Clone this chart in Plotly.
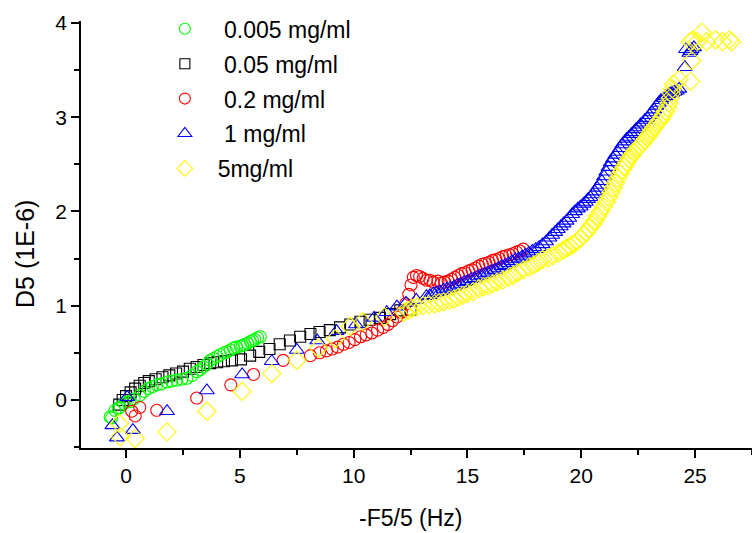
import plotly.graph_objects as go

# ---- data ----
g_x = [-0.7, -0.63, -0.49, -0.35, -0.27, -0.1, 0.05, 0.17, 0.35, 0.61, 0.8, 0.98, 1.15, 1.35, 1.55, 1.79, 2.0, 2.23, 2.45, 2.67, 2.9, 3.11, 3.25, 3.4, 3.55, 3.7, 3.85, 4.0, 4.14, 4.3, 4.45, 4.58, 4.72, 4.85, 5.02, 5.12, 5.22, 5.34, 5.46, 5.56, 5.66, 5.78, 5.9]
g_y = [-0.18, -0.19, -0.11, -0.09, -0.08, -0.04, -0.02, -0.02, 0.01, 0.05, 0.09, 0.12, 0.14, 0.16, 0.17, 0.19, 0.2, 0.21, 0.22, 0.23, 0.26, 0.3, 0.32, 0.35, 0.38, 0.42, 0.44, 0.46, 0.48, 0.5, 0.51, 0.53, 0.55, 0.56, 0.57, 0.58, 0.59, 0.6, 0.62, 0.63, 0.64, 0.66, 0.67]

k_x = [-0.3, -0.15, 0.0, 0.2, 0.4, 0.6, 0.8, 1.0, 1.3, 1.6, 1.9, 2.2, 2.5, 2.8, 3.1, 3.4, 3.7, 4.0, 4.3, 4.65, 5.05, 5.45, 5.85, 6.3, 6.75, 7.2, 7.65, 8.1, 8.5, 8.95, 9.4, 9.85, 10.3, 10.7, 11.15, 11.6, 12.05, 12.5]
k_y = [-0.05, 0.0, 0.04, 0.08, 0.12, 0.15, 0.18, 0.2, 0.22, 0.24, 0.26, 0.28, 0.3, 0.33, 0.35, 0.37, 0.39, 0.4, 0.41, 0.42, 0.43, 0.47, 0.51, 0.54, 0.59, 0.63, 0.67, 0.7, 0.72, 0.74, 0.77, 0.8, 0.83, 0.85, 0.87, 0.91, 0.95, 0.96]

r_x = [0.25, 0.4, 0.6, 1.35, 3.1, 4.6, 5.6, 6.9, 8.1, 8.5, 8.8, 9.05, 9.3, 9.55, 9.8, 10.05, 10.3, 10.55, 10.8, 11.05, 11.3, 11.5, 11.7, 11.9, 12.1, 12.28, 12.42, 12.52, 12.62, 12.76, 12.9, 13.05, 13.2, 13.35, 13.5, 13.7, 13.85, 14.0, 14.15, 14.3, 14.45, 14.6, 14.75, 14.9, 15.05, 15.2, 15.35, 15.5, 15.65, 15.8, 15.95, 16.1, 16.25, 16.4, 16.55, 16.7, 16.85, 17.0, 17.15, 17.3, 17.45]
r_y = [-0.12, -0.17, -0.08, -0.11, 0.02, 0.16, 0.27, 0.42, 0.47, 0.5, 0.52, 0.54, 0.56, 0.59, 0.61, 0.64, 0.67, 0.69, 0.71, 0.74, 0.77, 0.8, 0.84, 0.88, 0.93, 1.02, 1.12, 1.22, 1.3, 1.32, 1.31, 1.29, 1.27, 1.27, 1.25, 1.26, 1.24, 1.25, 1.26, 1.28, 1.3, 1.32, 1.34, 1.35, 1.37, 1.38, 1.4, 1.42, 1.44, 1.45, 1.46, 1.48, 1.49, 1.5, 1.52, 1.53, 1.54, 1.55, 1.57, 1.58, 1.6]

b_x = [-0.6, -0.4, 0.05, 0.3, 1.8, 3.55, 5.1, 6.4, 7.5, 8.4, 9.25, 10.1, 10.9, 11.45, 11.9, 12.3, 12.75, 13.2, 13.35, 13.5, 13.65, 13.8, 13.95, 14.1, 14.25, 14.4, 14.55, 14.7, 14.85, 15.0, 15.15, 15.3, 15.45, 15.6, 15.75, 15.9, 16.05, 16.2, 16.35, 16.5, 16.65, 16.8, 16.95, 17.1, 17.25, 17.4, 17.55, 17.7, 17.85, 18.0, 18.15, 18.3, 18.45, 18.6, 18.72, 18.85, 18.97, 19.1, 19.22, 19.35, 19.47, 19.6, 19.72, 19.85, 19.97, 20.1, 20.2, 20.3, 20.4, 20.5, 20.6, 20.7, 20.8, 20.9, 21.0, 21.1, 21.2, 21.3, 21.4, 21.5, 21.6, 21.7, 21.8, 21.9, 22.0, 22.1, 22.2, 22.3, 22.4, 22.5, 22.6, 22.7, 22.8, 22.9, 23.0, 23.1, 23.2, 23.3, 23.4, 23.5, 23.6, 23.7, 23.8, 23.9, 24.0, 24.1, 24.2, 24.3, 24.55, 24.6, 24.75, 24.8, 24.85, 24.95]
b_y = [-0.27, -0.4, 0.03, -0.32, -0.12, 0.1, 0.27, 0.41, 0.53, 0.63, 0.73, 0.8, 0.87, 0.93, 0.99, 1.03, 1.06, 1.1, 1.11, 1.13, 1.14, 1.15, 1.17, 1.18, 1.19, 1.2, 1.22, 1.23, 1.25, 1.26, 1.28, 1.29, 1.31, 1.32, 1.34, 1.35, 1.37, 1.38, 1.4, 1.42, 1.43, 1.45, 1.47, 1.49, 1.5, 1.52, 1.54, 1.56, 1.58, 1.6, 1.62, 1.65, 1.68, 1.72, 1.75, 1.78, 1.81, 1.84, 1.87, 1.9, 1.93, 1.97, 2.0, 2.03, 2.05, 2.08, 2.1, 2.13, 2.15, 2.18, 2.21, 2.25, 2.28, 2.32, 2.37, 2.42, 2.47, 2.52, 2.56, 2.6, 2.63, 2.67, 2.71, 2.74, 2.77, 2.79, 2.82, 2.84, 2.87, 2.89, 2.92, 2.94, 2.97, 2.99, 3.02, 3.05, 3.08, 3.12, 3.15, 3.18, 3.2, 3.22, 3.24, 3.25, 3.26, 3.27, 3.28, 3.3, 3.53, 3.72, 3.68, 3.7, 3.72, 3.74]

y_x = [-0.3, -0.25, 0.4, 1.8, 3.55, 5.1, 6.4, 7.5, 8.45, 9.2, 9.85, 10.4, 11.35, 12.2, 12.4, 12.55, 12.8, 13.05, 13.3, 13.55, 13.75, 13.95, 14.2, 14.4, 14.6, 14.8, 15.0, 15.25, 15.5, 15.7, 15.9, 16.1, 16.3, 16.55, 16.8, 17.0, 17.2, 17.45, 17.7, 17.9, 18.1, 18.3, 18.55, 18.75, 19.0, 19.2, 19.35, 19.5, 19.65, 19.8, 19.95, 20.1, 20.22, 20.35, 20.48, 20.6, 20.72, 20.85, 20.97, 21.1, 21.2, 21.3, 21.4, 21.5, 21.6, 21.7, 21.8, 21.9, 22.0, 22.1, 22.2, 22.3, 22.4, 22.5, 22.6, 22.7, 22.8, 22.9, 23.0, 23.1, 23.2, 23.3, 23.4, 23.5, 23.6, 23.7, 23.78, 23.85, 23.9, 23.95, 24.0, 24.05, 24.3, 24.8, 24.85, 24.8, 24.9, 25.1, 25.3, 25.5, 25.9, 26.2, 26.5, 26.6]
y_y = [-0.25, -0.39, -0.41, -0.34, -0.12, 0.09, 0.28, 0.42, 0.55, 0.65, 0.78, 0.83, 0.88, 0.93, 0.95, 0.97, 0.99, 1.0, 1.01, 1.02, 1.03, 1.04, 1.06, 1.07, 1.09, 1.11, 1.13, 1.15, 1.18, 1.2, 1.21, 1.23, 1.25, 1.27, 1.3, 1.32, 1.35, 1.38, 1.41, 1.43, 1.46, 1.49, 1.51, 1.53, 1.56, 1.59, 1.61, 1.63, 1.65, 1.68, 1.71, 1.75, 1.78, 1.82, 1.86, 1.9, 1.95, 2.0, 2.05, 2.1, 2.15, 2.2, 2.25, 2.3, 2.35, 2.4, 2.44, 2.48, 2.52, 2.56, 2.59, 2.62, 2.65, 2.68, 2.7, 2.73, 2.76, 2.79, 2.82, 2.86, 2.89, 2.92, 2.95, 2.98, 3.02, 3.06, 3.1, 3.15, 3.2, 3.25, 3.3, 3.35, 3.4, 3.38, 3.6, 3.8, 3.82, 3.8, 3.9, 3.8, 3.82, 3.8, 3.82, 3.8]

x_ticks = [0, 5, 10, 15, 20, 25]
y_ticks = [0, 1, 2, 3, 4]

FONT = "Liberation Sans, Arial, sans-serif"
NB = "\u00a0"

series = [
    # name, x, y, symbol, color, size, legend size, legend rank
    (NB * 3 + "0.05 mg/ml", k_x, k_y, "square-open", "#000000", 11, 10, 2),
    (NB * 3 + "0.005 mg/ml", g_x, g_y, "circle-open", "#00FF00", 12, 11, 1),
    (NB * 3 + "0.2 mg/ml", r_x, r_y, "circle-open", "#FF0000", 12, 11, 3),
    (NB * 3 + "1 mg/ml", b_x, b_y, "triangle-up-open", "#0000FF", 13, 12, 4),
    (NB * 2 + "5mg/ml", y_x, y_y, "diamond-open", "#FFFF00", 14, 12, 5),
]

fig = go.Figure()
for name, xs, ys, sym, col, sz, lsz, rank in series:
    fig.add_trace(go.Scatter(
        x=xs, y=ys, mode="markers", name=name, showlegend=False,
        legendgroup=name,
        marker=dict(symbol=sym, size=sz, color=col, line=dict(color=col, width=1.1)),
    ))
    # legend entry (same symbol, legend-sized marker)
    fig.add_trace(go.Scatter(
        x=[None], y=[None], mode="markers", name=name,
        legendrank=rank, legendgroup=name,
        marker=dict(symbol=sym, size=lsz, color=col, line=dict(color=col, width=1.1)),
    ))

axis_common = dict(
    showline=True, linecolor="black", linewidth=1.5, mirror=False,
    ticks="outside", ticklen=8, tickwidth=1.5, tickcolor="black",
    showgrid=False, zeroline=False,
    tickfont=dict(family=FONT, size=21, color="black"),
)

fig.update_layout(
    width=752, height=533,
    margin=dict(l=81, r=0, t=21, b=85),
    plot_bgcolor="white", paper_bgcolor="white",
    font=dict(family=FONT, color="black"),
    xaxis=dict(range=[-1.98, 27.5], tickvals=x_ticks,
               minor=dict(dtick=2.5, tick0=0, ticks="outside", ticklen=5, tickwidth=1.5, tickcolor="black"),
               **axis_common),
    yaxis=dict(range=[-0.51, 4.02], tickvals=y_ticks,
               minor=dict(dtick=0.5, tick0=0, ticks="outside", ticklen=5, tickwidth=1.5, tickcolor="black"),
               **axis_common),
    legend=dict(x=0.125, y=1.032, xanchor="left", yanchor="top",
                bgcolor="rgba(0,0,0,0)", tracegroupgap=2, itemsizing="trace",
                font=dict(family=FONT, size=23, color="black")),
    showlegend=True,
    annotations=[
        dict(text="-F5/5 (Hz)", xref="paper", yref="paper",
             x=(411 - 81) / 671, y=(448 - 518) / 427, xanchor="center", yanchor="middle",
             showarrow=False, font=dict(family=FONT, size=23, color="black")),
        dict(text="D5 (1E-6)", xref="paper", yref="paper", textangle=-90,
             x=(25 - 81) / 671, y=(448 - 254) / 427, xanchor="center", yanchor="middle",
             showarrow=False, font=dict(family=FONT, size=25, color="black")),
    ],
)

fig.write_html("out.html")
